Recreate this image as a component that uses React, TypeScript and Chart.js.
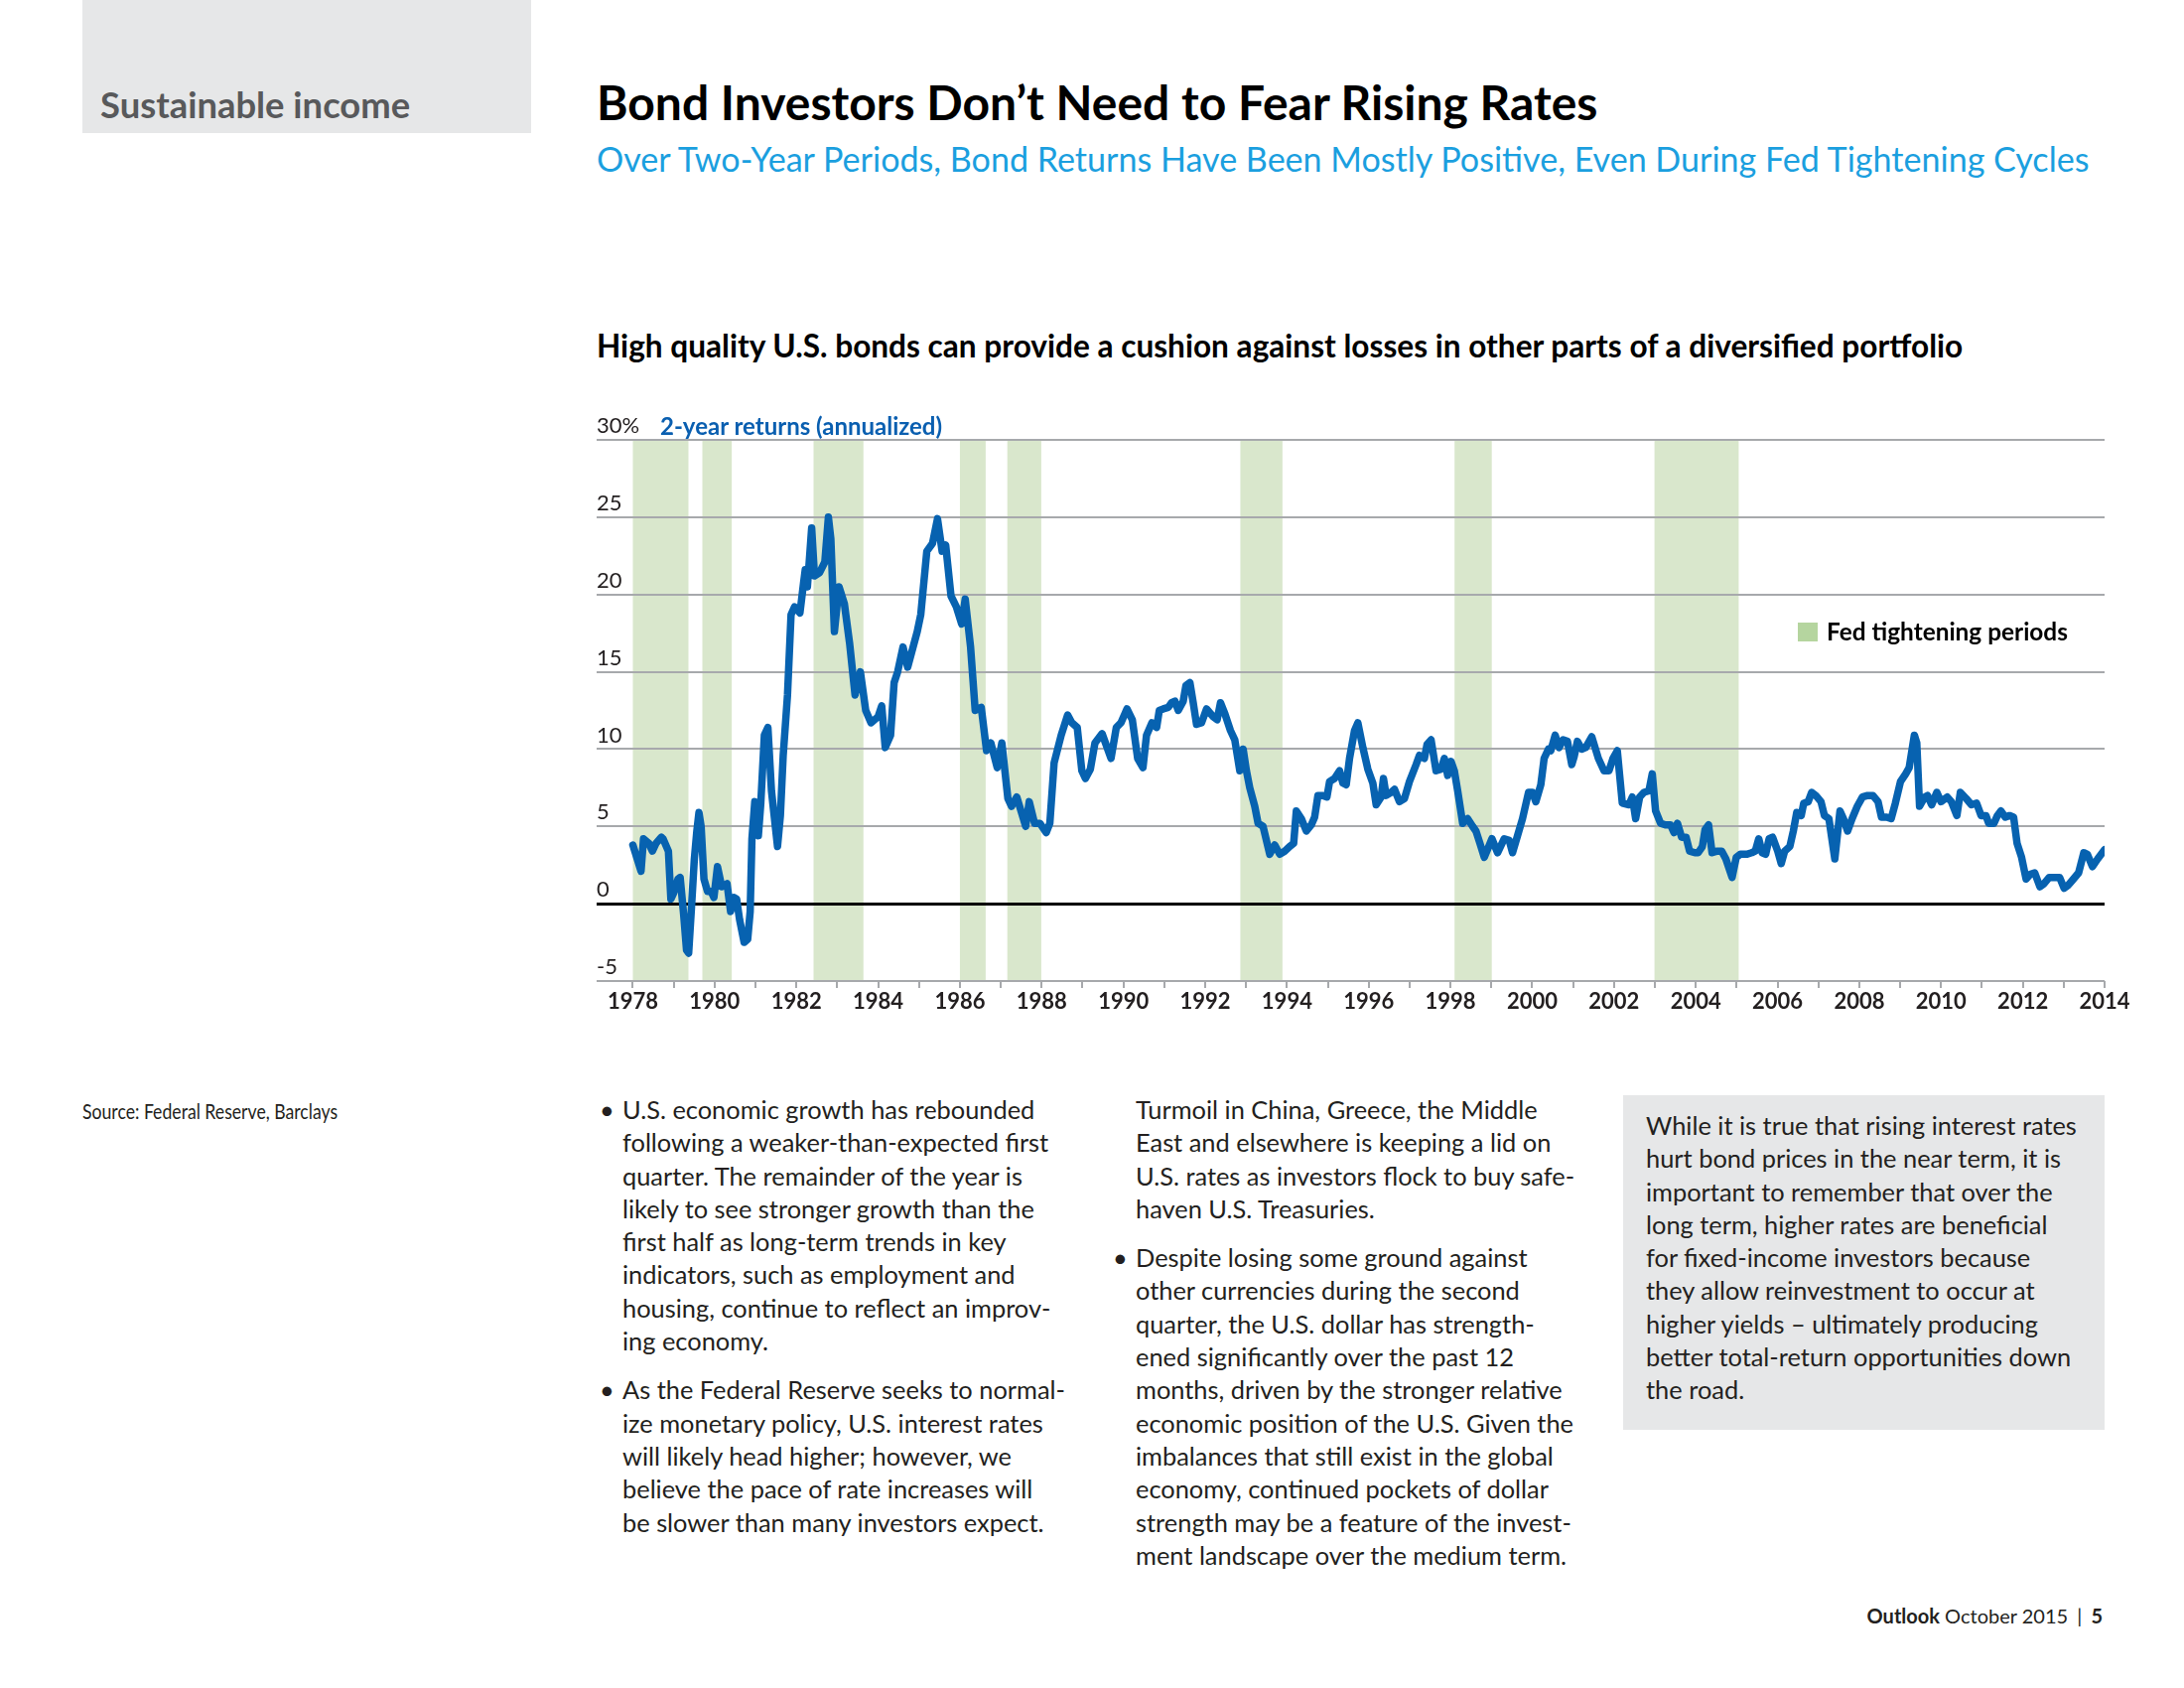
import React, { useEffect, useRef } from "react";
import { Chart, registerables } from "chart.js";

Chart.register(...registerables);

// ---- data ----
const years = [
  1978.0, 1978.2, 1978.261, 1978.391, 1978.478, 1978.565, 1978.696, 1978.739, 1978.87, 1978.93,
  1979.0, 1979.104, 1979.157, 1979.243, 1979.313, 1979.365, 1979.435, 1979.504, 1979.565, 1979.617,
  1979.67, 1979.739, 1979.826, 1979.913, 1979.983, 1980.07, 1980.174, 1980.304, 1980.391, 1980.478,
  1980.539, 1980.609, 1980.722, 1980.809, 1980.87, 1980.913, 1980.983, 1981.07, 1981.13, 1981.217,
  1981.304, 1981.391, 1981.539, 1981.609, 1981.678, 1981.783, 1981.87, 1981.957, 1982.087, 1982.174,
  1982.217, 1982.27, 1982.374, 1982.443, 1982.565, 1982.696, 1982.783, 1982.843, 1982.93, 1983.043,
  1983.174, 1983.304, 1983.435, 1983.565, 1983.696, 1983.826, 1984.0, 1984.087, 1984.174, 1984.304,
  1984.391, 1984.478, 1984.609, 1984.722, 1984.957, 1985.043, 1985.191, 1985.33, 1985.452, 1985.565,
  1985.652, 1985.783, 1985.913, 1986.043, 1986.13, 1986.261, 1986.374, 1986.522, 1986.652, 1986.757,
  1986.913, 1987.026, 1987.174, 1987.261, 1987.391, 1987.609, 1987.696, 1987.826, 1987.957, 1988.113,
  1988.2, 1988.304, 1988.478, 1988.635, 1988.739, 1988.87, 1988.983, 1989.07, 1989.191, 1989.304,
  1989.478, 1989.696, 1989.826, 1989.939, 1990.087, 1990.217, 1990.348, 1990.478, 1990.565, 1990.696,
  1990.812, 1990.877, 1990.975, 1991.097, 1991.178, 1991.26, 1991.341, 1991.463, 1991.528, 1991.626,
  1991.707, 1991.788, 1991.91, 1992.033, 1992.195, 1992.293, 1992.374, 1992.48, 1992.618, 1992.724,
  1992.846, 1992.928, 1993.009, 1993.09, 1993.212, 1993.294, 1993.416, 1993.579, 1993.701, 1993.823,
  1993.945, 1994.067, 1994.164, 1994.229, 1994.352, 1994.474, 1994.596, 1994.677, 1994.758, 1994.88,
  1994.978, 1995.043, 1995.165, 1995.287, 1995.369, 1995.45, 1995.531, 1995.653, 1995.735, 1995.857,
  1995.979, 1996.101, 1996.182, 1996.304, 1996.361, 1996.426, 1996.548, 1996.63, 1996.752, 1996.874,
  1996.996, 1997.159, 1997.24, 1997.362, 1997.427, 1997.525, 1997.647, 1997.769, 1997.85, 1997.932,
  1998.013, 1998.094, 1998.176, 1998.298, 1998.42, 1998.542, 1998.623, 1998.721, 1998.827, 1999.014,
  1999.152, 1999.315, 1999.437, 1999.518, 1999.64, 1999.762, 1999.909, 2000.007, 2000.088, 2000.21,
  2000.291, 2000.397, 2000.454, 2000.56, 2000.657, 2000.755, 2000.861, 2000.967, 2001.024, 2001.105,
  2001.211, 2001.308, 2001.455, 2001.617, 2001.756, 2001.878, 2001.975, 2002.081, 2002.203, 2002.366,
  2002.448, 2002.529, 2002.627, 2002.732, 2002.854, 2002.936, 2003.017, 2003.139, 2003.255, 2003.382,
  2003.467, 2003.552, 2003.653, 2003.763, 2003.848, 2003.975, 2004.059, 2004.161, 2004.228, 2004.313,
  2004.398, 2004.525, 2004.635, 2004.736, 2004.888, 2004.99, 2005.091, 2005.244, 2005.371, 2005.455,
  2005.54, 2005.624, 2005.709, 2005.794, 2005.878, 2006.005, 2006.09, 2006.174, 2006.301, 2006.386,
  2006.47, 2006.58, 2006.64, 2006.75, 2006.834, 2006.936, 2007.063, 2007.147, 2007.257, 2007.401,
  2007.528, 2007.613, 2007.714, 2007.824, 2007.951, 2008.078, 2008.205, 2008.332, 2008.459, 2008.543,
  2008.67, 2008.78, 2008.882, 2009.008, 2009.135, 2009.22, 2009.347, 2009.406, 2009.474, 2009.601,
  2009.668, 2009.77, 2009.897, 2009.998, 2010.151, 2010.252, 2010.387, 2010.472, 2010.616, 2010.743,
  2010.87, 2010.98, 2011.098, 2011.166, 2011.293, 2011.378, 2011.463, 2011.572, 2011.674, 2011.775,
  2011.86, 2011.97, 2012.08, 2012.181, 2012.291, 2012.418, 2012.519, 2012.646, 2012.756, 2012.9,
  2013.01, 2013.112, 2013.239, 2013.365, 2013.492, 2013.577, 2013.704, 2013.831, 2014.0,
];

const returns = [
  3.8, 2.1, 4.2, 3.9, 3.4, 3.9, 4.3, 4.2, 3.4, 0.3,
  0.7, 1.6, 1.7, -0.7, -3.0, -3.2, -0.2, 2.9, 4.7, 5.9,
  5.0, 1.6, 0.8, 0.8, 0.4, 2.4, 1.1, 1.3, -0.5, 0.4,
  0.3, -1.0, -2.5, -2.3, -0.5, 4.2, 6.6, 4.4, 6.5, 10.9,
  11.4, 7.3, 3.7, 5.7, 9.6, 13.5, 18.7, 19.2, 18.8, 20.7,
  21.6, 20.5, 24.3, 21.2, 21.4, 22.1, 25.0, 23.6, 17.6, 20.5,
  19.4, 16.8, 13.5, 15.0, 12.5, 11.7, 12.1, 12.8, 10.1, 10.9,
  14.3, 15.0, 16.6, 15.3, 17.6, 18.7, 22.8, 23.3, 24.9, 22.8,
  23.2, 19.9, 19.2, 18.1, 19.7, 16.6, 12.5, 12.7, 9.9, 10.4,
  8.8, 10.4, 6.8, 6.3, 6.9, 5.0, 6.6, 5.2, 5.2, 4.6,
  5.2, 9.1, 10.9, 12.2, 11.7, 11.4, 8.6, 8.1, 8.7, 10.4,
  11.0, 9.4, 11.4, 11.7, 12.6, 11.9, 9.4, 8.8, 10.9, 11.7,
  11.4, 12.5, 12.6, 12.7, 13.0, 13.1, 12.5, 13.1, 14.1, 14.3,
  13.0, 11.6, 11.7, 12.6, 12.1, 11.9, 13.0, 12.3, 11.2, 10.6,
  8.6, 10.0, 8.6, 7.5, 6.3, 5.2, 5.0, 3.2, 3.8, 3.2,
  3.4, 3.7, 3.9, 6.0, 5.5, 4.7, 5.1, 5.6, 7.0, 7.0,
  6.9, 7.9, 8.1, 8.6, 7.8, 7.7, 9.4, 11.2, 11.7, 10.1,
  8.7, 7.8, 6.4, 6.9, 8.1, 7.0, 7.2, 7.4, 6.6, 6.8,
  7.9, 9.0, 9.6, 9.4, 10.3, 10.6, 8.6, 8.7, 9.4, 8.3,
  9.2, 8.6, 7.3, 5.2, 5.5, 5.0, 4.7, 3.9, 3.0, 4.2,
  3.3, 4.2, 4.1, 3.3, 4.4, 5.5, 7.2, 7.2, 6.6, 7.7,
  9.4, 10.0, 9.9, 10.9, 10.1, 10.6, 10.5, 9.0, 9.5, 10.5,
  10.0, 10.1, 10.8, 9.4, 8.6, 8.6, 9.4, 9.9, 6.5, 6.4,
  6.9, 5.5, 6.9, 7.2, 7.3, 8.4, 6.0, 5.2, 5.1, 5.1,
  4.6, 5.2, 4.3, 4.3, 3.4, 3.3, 3.3, 3.7, 4.8, 5.1,
  3.3, 3.4, 3.4, 2.9, 1.7, 3.0, 3.2, 3.2, 3.3, 3.4,
  4.2, 3.3, 3.2, 4.2, 4.3, 3.4, 2.6, 3.4, 3.7, 4.7,
  5.9, 5.7, 6.5, 6.6, 7.2, 7.0, 6.6, 5.7, 5.5, 2.9,
  6.0, 5.5, 4.7, 5.5, 6.3, 6.9, 7.0, 7.0, 6.6, 5.6,
  5.6, 5.5, 6.5, 7.9, 8.4, 8.8, 10.9, 10.4, 6.3, 6.9,
  7.0, 6.4, 7.2, 6.6, 6.9, 6.6, 5.7, 7.2, 6.8, 6.4,
  6.5, 5.7, 5.7, 5.2, 5.2, 5.7, 6.0, 5.6, 5.7, 5.6,
  3.9, 3.0, 1.6, 1.9, 2.0, 1.1, 1.3, 1.7, 1.7, 1.7,
  1.0, 1.2, 1.6, 2.0, 3.3, 3.2, 2.4, 2.9, 3.5,
];

// Fed tightening periods (decimal years)
const bandStarts = [1978.0, 1979.7, 1982.42, 1986.0, 1987.16, 1992.86, 1998.1, 2002.99];
const bandEnds = [1979.36, 1980.42, 1983.64, 1986.63, 1987.99, 1993.89, 1999.01, 2005.05];

// axis ticks
const yTickValues = [-5, 0, 5, 10, 15, 20, 25, 30];
const xTickYears = [
  1978, 1979, 1980, 1981, 1982, 1983, 1984, 1985, 1986, 1987, 1988, 1989, 1990, 1991, 1992, 1993,
  1994, 1995, 1996, 1997, 1998, 1999, 2000, 2001, 2002, 2003, 2004, 2005, 2006, 2007, 2008, 2009,
  2010, 2011, 2012, 2013, 2014,
];
const xLabelYears = [
  1978, 1980, 1982, 1984, 1986, 1988, 1990, 1992, 1994, 1996, 1998, 2000, 2002, 2004, 2006, 2008,
  2010, 2012, 2014,
];

const FONT = "Lato, 'Noto Sans', sans-serif";
const INK = "#231f20";
const GRID = "#a7a9ac";
const LINE_BLUE = "#0762b0";
const BAND = "#d9e7cc";

const bandPlugin = {
  id: "fedBands",
  beforeDraw(chart: any) {
    const { ctx, chartArea, scales } = chart;
    const xs = scales.x;
    ctx.save();
    ctx.fillStyle = BAND;
    for (let i = 0; i < bandStarts.length; i++) {
      const x1 = xs.getPixelForValue(bandStarts[i]);
      const x2 = xs.getPixelForValue(bandEnds[i]);
      ctx.fillRect(x1, chartArea.top, x2 - x1, chartArea.bottom - chartArea.top);
    }
    ctx.restore();
  },
};

function BondChart() {
  const ref = useRef<HTMLCanvasElement | null>(null);
  useEffect(() => {
    if (!ref.current) return;
    const chart = new Chart(ref.current, {
      type: "line",
      data: {
        datasets: [
          {
            label: "2-year returns (annualized)",
            data: years.map((x, i) => ({ x, y: returns[i] })),
            borderColor: LINE_BLUE,
            borderWidth: 7.5,
            pointRadius: 0,
            tension: 0,
            borderJoinStyle: "round",
            borderCapStyle: "round",
            fill: false,
          },
        ],
      },
      options: {
        animation: false,
        responsive: true,
        maintainAspectRatio: false,
        layout: { padding: { left: 41, right: 60, top: 43, bottom: 12 } },
        plugins: { legend: { display: false }, tooltip: { enabled: false } },
        scales: {
          x: {
            type: "linear",
            min: 1977.114,
            max: 2014,
            afterBuildTicks: (scale: any) => {
              scale.ticks = xTickYears.map((v) => ({ value: v }));
            },
            afterFit: (scale: any) => {
              scale.height = 50;
            },
            ticks: {
              autoSkip: false,
              maxRotation: 0,
              padding: 1,
              color: INK,
              font: { family: FONT, size: 22, weight: "bold" },
              callback: (v: any) => (xLabelYears.includes(Number(v)) ? String(v) : ""),
            },
            grid: {
              drawOnChartArea: false,
              drawTicks: true,
              tickLength: 7,
              color: GRID,
              lineWidth: 2,
            },
            border: { display: false },
          },
          y: {
            min: -5,
            max: 30,
            afterBuildTicks: (scale: any) => {
              scale.ticks = yTickValues.map((v) => ({ value: v }));
            },
            afterFit: (scale: any) => {
              scale.width = 0;
            },
            ticks: {
              mirror: true,
              padding: 0,
              labelOffset: -14,
              color: INK,
              font: { family: FONT, size: 22 },
              callback: (v: any) => (Number(v) === 30 ? "30%" : String(v)),
            },
            grid: {
              drawTicks: false,
              color: (c: any) => (c.tick && c.tick.value === 0 ? "#000000" : GRID),
              lineWidth: (c: any) => (c.tick && c.tick.value === 0 ? 3 : 2),
            },
            border: { display: false },
          },
        },
      },
      plugins: [bandPlugin],
    } as any);
    return () => chart.destroy();
  }, []);
  return (
    <div style={{ position: "absolute", left: 560, top: 400, width: 1620, height: 650 }}>
      <canvas ref={ref} />
    </div>
  );
}

const col1 = [
  { bullet: true, lines: [
    "U.S. economic growth has rebounded",
    "following a weaker-than-expected first",
    "quarter. The remainder of the year is",
    "likely to see stronger growth than the",
    "first half as long-term trends in key",
    "indicators, such as employment and",
    "housing, continue to reflect an improv-",
    "ing economy.",
  ] },
  { bullet: true, lines: [
    "As the Federal Reserve seeks to normal-",
    "ize monetary policy, U.S. interest rates",
    "will likely head higher; however, we",
    "believe the pace of rate increases will",
    "be slower than many investors expect.",
  ] },
];
const col2 = [
  { bullet: false, lines: [
    "Turmoil in China, Greece, the Middle",
    "East and elsewhere is keeping a lid on",
    "U.S. rates as investors flock to buy safe-",
    "haven U.S. Treasuries.",
  ] },
  { bullet: true, lines: [
    "Despite losing some ground against",
    "other currencies during the second",
    "quarter, the U.S. dollar has strength-",
    "ened significantly over the past 12",
    "months, driven by the stronger relative",
    "economic position of the U.S. Given the",
    "imbalances that still exist in the global",
    "economy, continued pockets of dollar",
    "strength may be a feature of the invest-",
    "ment landscape over the medium term.",
  ] },
];
const boxLines = [
  "While it is true that rising interest rates",
  "hurt bond prices in the near term, it is",
  "important to remember that over the",
  "long term, higher rates are beneficial",
  "for fixed-income investors because",
  "they allow reinvestment to occur at",
  "higher yields – ultimately producing",
  "better total-return opportunities down",
  "the road.",
];

const bodyStyle: React.CSSProperties = {
  fontFamily: FONT,
  fontSize: 25.4,
  lineHeight: "33.3px",
  color: INK,
  whiteSpace: "nowrap",
};

function Column({ paras, left, top }: { paras: { bullet: boolean; lines: string[] }[]; left: number; top: number }) {
  return (
    <div style={{ position: "absolute", left, top, ...bodyStyle }}>
      {paras.map((p, i) => (
        <div key={i} style={{ position: "relative", marginBottom: i < paras.length - 1 ? 16 : 0 }}>
          {p.bullet && <span style={{ position: "absolute", left: -23, top: 0 }}>•</span>}
          {p.lines.map((l, j) => (
            <div key={j}>{l}</div>
          ))}
        </div>
      ))}
    </div>
  );
}

export default function App() {
  return (
    <div style={{ position: "relative", width: 2200, height: 1700, background: "#fff", overflow: "hidden", fontFamily: FONT }}>
      <style>{`body{margin:0}`}</style>
      <div style={{ position: "absolute", left: 83, top: 0, width: 452, height: 134, background: "#e6e7e8" }} />
      <div style={{ position: "absolute", left: 101, top: 84, fontSize: 36.4, lineHeight: "42px", fontWeight: 700, color: "#58595b", whiteSpace: "nowrap" }}>
        Sustainable income
      </div>
      <div style={{ position: "absolute", left: 601, top: 75, fontSize: 48, lineHeight: "56px", fontWeight: 700, color: "#000", whiteSpace: "nowrap" }}>
        Bond Investors Don’t Need to Fear Rising Rates
      </div>
      <div style={{ position: "absolute", left: 601, top: 140, fontSize: 34.1, lineHeight: "40px", fontWeight: 400, color: "#1b9fdf", whiteSpace: "nowrap" }}>
        Over Two-Year Periods, Bond Returns Have Been Mostly Positive, Even During Fed Tightening Cycles
      </div>
      <div style={{ position: "absolute", left: 601, top: 330, fontSize: 31.6, lineHeight: "36px", fontWeight: 700, color: "#000", whiteSpace: "nowrap" }}>
        High quality U.S. bonds can provide a cushion against losses in other parts of a diversified portfolio
      </div>

      <BondChart />

      <div style={{ position: "absolute", left: 665, top: 415, fontSize: 24, lineHeight: "28px", fontWeight: 700, color: "#0a5fb0", whiteSpace: "nowrap" }}>
        2-year returns (annualized)
      </div>
      <div style={{ position: "absolute", left: 1811, top: 627, width: 20, height: 19, background: "#b5d59f" }} />
      <div style={{ position: "absolute", left: 1840, top: 622, fontSize: 24.4, lineHeight: "28px", fontWeight: 700, color: "#000", whiteSpace: "nowrap" }}>
        Fed tightening periods
      </div>

      <div style={{ position: "absolute", left: 83, top: 1106, fontSize: 21, lineHeight: "26px", color: INK, whiteSpace: "nowrap", transform: "scaleX(0.84)", transformOrigin: "left top" }}>
        Source: Federal Reserve, Barclays
      </div>

      <Column paras={col1} left={627} top={1101} />
      <Column paras={col2} left={1144} top={1101} />

      <div style={{ position: "absolute", left: 1635, top: 1103, width: 485, height: 337, background: "#e6e7e8" }} />
      <div style={{ position: "absolute", left: 1658, top: 1117, ...bodyStyle }}>
        {boxLines.map((l, i) => (
          <div key={i}>{l}</div>
        ))}
      </div>

      <div style={{ position: "absolute", right: 2200 - 2118, top: 1614, fontSize: 20, lineHeight: "26px", color: INK, whiteSpace: "nowrap" }}>
        <b>Outlook</b> October 2015 <span style={{ margin: "0 4px" }}>|</span> <b>5</b>
      </div>
    </div>
  );
}
